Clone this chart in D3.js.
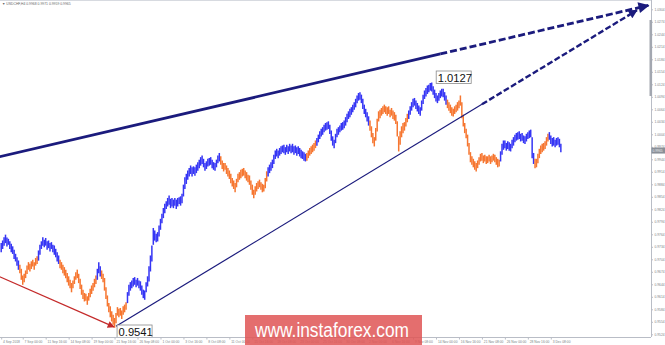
<!DOCTYPE html>
<html>
<head>
<meta charset="utf-8">
<script src="https://cdn.jsdelivr.net/npm/d3@7"></script>
<style>
html, body { margin: 0; padding: 0; background: #fff; }
svg { display: block; font-family: "Liberation Sans", Arial, sans-serif; }
</style>
</head>
<body>
<svg id="chart" width="665" height="345"></svg>
<script>
"use strict";

// header: symbol and last bar O H L C
const symbol = "USDCHF,H4";
const lastQuote = [0.9968, 0.9971, 0.9959, 0.9965];

// H4 bars, prices in pips (0.0001)
const high = [
  9742,9748,9756,9762,9755,9752,9746,9740,9734,9726,
  9716,9708,9700,9690,9680,9664,9668,9676,9688,9696,
  9692,9698,9702,9696,9706,9710,9724,9738,9746,9756,
  9750,9754,9746,9748,9742,9744,9738,9736,9728,9720,
  9712,9702,9696,9690,9684,9678,9670,9662,9654,9646,
  9652,9662,9672,9678,9668,9656,9642,9630,9622,9620,
  9614,9622,9632,9640,9646,9656,9664,9680,9696,9686,
  9676,9668,9658,9636,9616,9598,9590,9578,9570,9562,
  9574,9588,9584,9586,9580,9590,9594,9600,9624,9642,
  9648,9652,9658,9660,9654,9658,9652,9650,9640,9630,
  9628,9648,9662,9686,9712,9736,9778,9772,9764,9768,
  9784,9800,9812,9826,9836,9842,9850,9856,9848,9850,
  9846,9850,9846,9850,9852,9854,9860,9882,9900,9908,
  9916,9922,9928,9924,9926,9924,9930,9936,9942,9948,
  9952,9944,9934,9938,9944,9946,9948,9942,9936,9934,
  9942,9952,9958,9950,9940,9934,9934,9928,9922,9916,
  9908,9898,9892,9886,9896,9908,9912,9918,9920,9922,
  9916,9912,9906,9904,9892,9882,9870,9878,9886,9890,
  9894,9888,9884,9882,9898,9914,9924,9930,9936,9942,
  9954,9964,9968,9964,9970,9974,9976,9978,9972,9978,
  9974,9980,9976,9980,9974,9976,9972,9974,9970,9966,
  9962,9960,9956,9958,9964,9970,9974,9978,9982,9988,
  9994,10002,10010,10016,10020,10026,10030,10032,10034,10026,
  10012,9998,9990,10004,10016,10020,10024,10030,10032,10036,
  10044,10052,10058,10064,10068,10074,10080,10088,10096,10102,
  10104,10098,10088,10074,10064,10056,10046,10036,10022,10006,
  9996,10018,10040,10058,10062,10066,10070,10074,10070,10068,
  10070,10062,10066,10060,10056,10050,10034,9998,10010,10022,
  10030,10032,10042,10052,10060,10070,10080,10088,10090,10084,
  10078,10072,10068,10084,10098,10108,10114,10120,10122,10126,
  10127,10118,10110,10102,10096,10102,10108,10112,10112,10104,
  10096,10086,10080,10074,10068,10064,10070,10074,10080,10084,
  10096,10080,10050,10030,10016,10002,9982,9960,9950,9944,
  9938,9934,9940,9948,9956,9958,9952,9954,9950,9950,
  9954,9950,9952,9956,9954,9948,9944,9942,9962,9980,
  9988,9988,9982,9986,9984,9980,9990,9996,10002,10006,
  10008,10010,10004,10006,10000,9998,10004,10008,10012,10014,
  9996,9958,9944,9944,9956,9968,9976,9980,9982,9986,
  9996,10004,10008,10000,9994,9996,9990,9994,9996,9992,
  9980
];
const low = [
  9722,9730,9738,9744,9736,9740,9730,9722,9718,9706,
  9700,9690,9680,9672,9656,9644,9650,9660,9670,9680,
  9676,9682,9688,9680,9690,9694,9702,9716,9730,9738,
  9734,9738,9728,9732,9724,9730,9722,9716,9710,9700,
  9694,9684,9680,9672,9666,9660,9650,9642,9636,9626,
  9636,9646,9656,9660,9648,9634,9620,9610,9604,9606,
  9596,9606,9614,9622,9630,9638,9646,9656,9672,9664,
  9658,9650,9630,9610,9592,9578,9566,9556,9548,9541,
  9552,9570,9566,9570,9562,9572,9578,9584,9600,9618,
  9630,9636,9640,9644,9638,9642,9636,9630,9620,9612,
  9608,9626,9640,9652,9676,9700,9740,9750,9746,9748,
  9760,9776,9792,9804,9816,9826,9832,9836,9828,9832,
  9828,9834,9826,9832,9838,9834,9840,9856,9874,9886,
  9896,9904,9910,9904,9910,9906,9912,9918,9924,9930,
  9934,9926,9918,9922,9928,9930,9932,9924,9920,9918,
  9926,9936,9940,9932,9922,9916,9920,9910,9904,9898,
  9888,9880,9874,9866,9878,9890,9896,9900,9904,9906,
  9900,9894,9890,9884,9872,9860,9852,9860,9868,9874,
  9878,9872,9866,9868,9876,9892,9904,9912,9918,9924,
  9934,9946,9952,9948,9954,9958,9962,9960,9956,9962,
  9958,9964,9960,9962,9956,9960,9954,9958,9952,9948,
  9946,9942,9940,9942,9948,9954,9958,9962,9966,9972,
  9978,9986,9994,10000,10004,10010,10014,10016,10018,10006,
  9990,9978,9972,9984,9998,10004,10010,10014,10016,10020,
  10026,10034,10042,10046,10052,10058,10064,10070,10080,10086,
  10088,10080,10066,10054,10046,10036,10026,10014,9998,9984,
  9976,9990,10012,10036,10044,10050,10054,10058,10054,10050,
  10054,10046,10050,10042,10038,10030,10000,9964,9980,9998,
  10008,10014,10024,10034,10042,10052,10062,10070,10074,10066,
  10060,10054,10050,10062,10078,10090,10096,10102,10106,10110,
  10108,10100,10092,10084,10080,10086,10092,10096,10094,10086,
  10076,10068,10062,10056,10050,10048,10054,10058,10062,10068,
  10074,10044,10024,10008,9996,9976,9956,9938,9932,9926,
  9920,9916,9924,9932,9940,9942,9936,9940,9934,9936,
  9940,9934,9938,9942,9938,9932,9926,9928,9940,9956,
  9968,9972,9966,9970,9966,9964,9972,9978,9986,9990,
  9992,9994,9988,9990,9984,9982,9988,9994,9996,9998,
  9948,9934,9924,9926,9936,9948,9958,9962,9966,9970,
  9978,9988,9992,9982,9976,9978,9974,9978,9980,9974,
  9962
];

// wave colouring: first bar of each wave and its direction
const waveStart = [0, 13, 26, 41, 67, 70, 88, 153, 186, 213, 220, 257, 284, 311, 348, 372, 382];
const waveDir   = ["up","down","up","down","up","down","up","down","up","down","up","down","up","down","up","down","up"];

// time axis labels and the bar each one sits on
const timeLabels = ["4 Sep 2018","7 Sep 00:00","11 Sep 16:00","14 Sep 08:00","19 Sep 00:00",
  "21 Sep 16:00","26 Sep 08:00","1 Oct 00:00","3 Oct 16:00","8 Oct 08:00","11 Oct 00:00",
  "15 Oct 16:00","18 Oct 08:00","23 Oct 00:00","25 Oct 16:00","30 Oct 08:00","2 Nov 00:00",
  "6 Nov 16:00","9 Nov 08:00","14 Nov 00:00","16 Nov 16:00","21 Nov 08:00","26 Nov 00:00",
  "28 Nov 16:00","3 Dec 08:00"];
const timeLabelBar = [0,15,31,47,63,79,95,111,127,143,159,175,191,207,223,239,255,271,287,303,319,335,351,367,383];

// price axis labels
const priceTicks = [0.9524,0.9554,0.9584,0.9614,0.9644,0.9674,0.9704,0.9734,0.9764,0.9794,
  0.9824,0.9854,0.9884,0.9914,0.9944,0.9974,1.0004,1.0034,1.0064,1.0094,1.0124,1.0154,
  1.0184,1.0214,1.0244,1.0274,1.0304];

// marked extremes
const extremeBar = [79, 300];
const extremePrice = [0.9541, 1.0127];

// trend lines: two anchor points (bar, price), end of the solid part, tip of the dashed part
const upperBars = [0, 300], upperPrices = [0.9951, 1.0192], upperSolidEnd = 306, upperTip = 451;
const lowerBars = [79, 335], lowerPrices = [0.9541, 1.0076], lowerSolidEnd = 335, lowerTip = 443;
const redBars = [-1, 79], redPrices = [0.9662, 0.9541];

const colors = { up: "#3535f4", down: "#f67630", navy: "#1b1b7d", red: "#c42a2a",
  axis: "#b9bdc6", text: "#7b7f86" };

const plotRight = 651, plotBottom = 337;

const svg = d3.select("#chart");

const x = d3.scaleLinear().domain([0, 390]).range([1.2, 1.2 + 390 * 1.435]);
const y = d3.scaleLinear().domain([0.9524, 1.0304]).range([334.3, 9.3]);

const defs = svg.append("defs");
defs.append("clipPath").attr("id", "plotclip")
  .append("rect").attr("x", 0).attr("y", 0).attr("width", plotRight).attr("height", plotBottom);

function arrow(id, color, w, h) {
  defs.append("marker").attr("id", id)
    .attr("markerUnits", "userSpaceOnUse")
    .attr("viewBox", "0 0 10 10")
    .attr("markerWidth", w).attr("markerHeight", h)
    .attr("refX", 9).attr("refY", 5).attr("orient", "auto")
    .append("path").attr("d", "M0,0 L10,5 L0,10 z").attr("fill", color);
}
arrow("arrNavy", colors.navy, 14, 11);
arrow("arrNavy2", colors.navy, 11, 9);
arrow("arrRed", colors.red, 9, 7);

// frame
svg.append("line").attr("x1", 0).attr("x2", plotRight).attr("y1", 0.5).attr("y2", 0.5)
  .attr("stroke", "#d7dae0");

// header text
svg.append("text").attr("x", 2).attr("y", 4.6)
  .attr("font-size", 3.4).attr("fill", "#666")
  .text("\u25BC " + symbol + "  " + lastQuote.map(d => d.toFixed(4)).join(" "));

const plot = svg.append("g").attr("clip-path", "url(#plotclip)");

// bars
const waveOf = i => waveDir[d3.bisectRight(waveStart, i) - 1];
plot.append("g").selectAll("line")
  .data(d3.range(high.length))
  .join("line")
  .attr("x1", i => x(i)).attr("x2", i => x(i))
  .attr("y1", i => y(high[i] / 10000) - 0.5)
  .attr("y2", i => y(low[i] / 10000) + 0.5)
  .attr("stroke", i => colors[waveOf(i)])
  .attr("stroke-width", 1.5);

// trend lines
const lineAt = (bars, prices) => i => prices[0] + (prices[1] - prices[0]) * (i - bars[0]) / (bars[1] - bars[0]);
function seg(g, bars, prices, from, to) {
  const f = lineAt(bars, prices);
  return g.append("line")
    .attr("x1", x(from)).attr("y1", y(f(from)))
    .attr("x2", x(to)).attr("y2", y(f(to)))
    .attr("fill", "none");
}

seg(plot, redBars, redPrices, -2, 78.6)
  .attr("stroke", colors.red).attr("stroke-width", 1.3)
  .attr("marker-end", "url(#arrRed)");

seg(plot, upperBars, upperPrices, -2, upperSolidEnd)
  .attr("stroke", colors.navy).attr("stroke-width", 2.8);
seg(plot, upperBars, upperPrices, upperSolidEnd, upperTip)
  .attr("stroke", colors.navy).attr("stroke-width", 2.8)
  .attr("stroke-dasharray", "7,3")
  .attr("marker-end", "url(#arrNavy)");

seg(plot, lowerBars, lowerPrices, lowerBars[0] + 1, lowerSolidEnd)
  .attr("stroke", colors.navy).attr("stroke-width", 1.2);
seg(plot, lowerBars, lowerPrices, lowerSolidEnd, lowerTip)
  .attr("stroke", colors.navy).attr("stroke-width", 2.4)
  .attr("stroke-dasharray", "6,2.5")
  .attr("marker-end", "url(#arrNavy2)");

// extreme labels
const labelG = svg.append("g");
extremeBar.forEach((b, k) => {
  const lx = x(b) + (k === 0 ? 2.5 : 4.5);
  const ly = k === 0 ? 325 : 71;
  labelG.append("rect").attr("x", lx).attr("y", ly).attr("width", 35).attr("height", 12.5)
    .attr("fill", "#fff").attr("stroke", "#8a8a8a").attr("stroke-width", 0.8);
  labelG.append("text").attr("x", lx + 1.5).attr("y", ly + 11)
    .attr("font-size", 11.2).attr("fill", "#111")
    .text(extremePrice[k].toFixed(4));
});

// price axis
const yAxis = svg.append("g").attr("transform", `translate(${plotRight},0)`)
  .call(d3.axisRight(y).tickValues(priceTicks).tickFormat(d3.format(".4f"))
    .tickSize(2).tickSizeOuter(0).tickPadding(1.5));
yAxis.select(".domain").attr("stroke", colors.axis);
yAxis.selectAll(".tick line").attr("stroke", colors.axis);
yAxis.selectAll(".tick text").attr("font-size", 3.3).attr("fill", colors.text)
  .attr("font-family", "Liberation Sans, Arial, sans-serif");
yAxis.select(".domain").attr("d", `M0.5,0V${plotBottom}`);

// scroll marker on the price axis
svg.append("rect").attr("x", plotRight - 1.5).attr("y", 20).attr("width", 2.6).attr("height", 76)
  .attr("fill", "#a3a7b0");

// current price box
const last = lastQuote[3];
svg.append("rect").attr("x", plotRight + 0.5).attr("y", y(last) - 3).attr("width", 13.5).attr("height", 6)
  .attr("fill", "#8a8f98");
svg.append("text").attr("x", plotRight + 1.5).attr("y", y(last) + 1.2)
  .attr("font-size", 3.3).attr("fill", "#eef0f3").text(last.toFixed(4));

// time axis
const xAxis = svg.append("g").attr("transform", `translate(0,${plotBottom})`)
  .call(d3.axisBottom(x).tickValues(timeLabelBar).tickFormat((d, k) => timeLabels[k])
    .tickSize(2.5).tickSizeOuter(0));
xAxis.select(".domain").attr("stroke", colors.axis).attr("d", `M0,0.5H${plotRight}`);
xAxis.selectAll(".tick line").attr("stroke", colors.axis);
xAxis.selectAll(".tick text").attr("font-size", 3.3).attr("fill", colors.text)
  .attr("text-anchor", "start").attr("y", 5.6).attr("dy", 0).attr("x", 1.4)
  .attr("font-family", "Liberation Sans, Arial, sans-serif");

// watermark
svg.append("rect").attr("x", 245).attr("y", 315).attr("width", 177).attr("height", 30)
  .attr("fill", "#e05656").attr("opacity", 0.86);
svg.append("text").attr("x", 255).attr("y", 337)
  .attr("font-size", 19.5).attr("fill", "#fff")
  .attr("textLength", 154).attr("lengthAdjust", "spacingAndGlyphs")
  .text("www.instaforex.com");
</script>
</body>
</html>
